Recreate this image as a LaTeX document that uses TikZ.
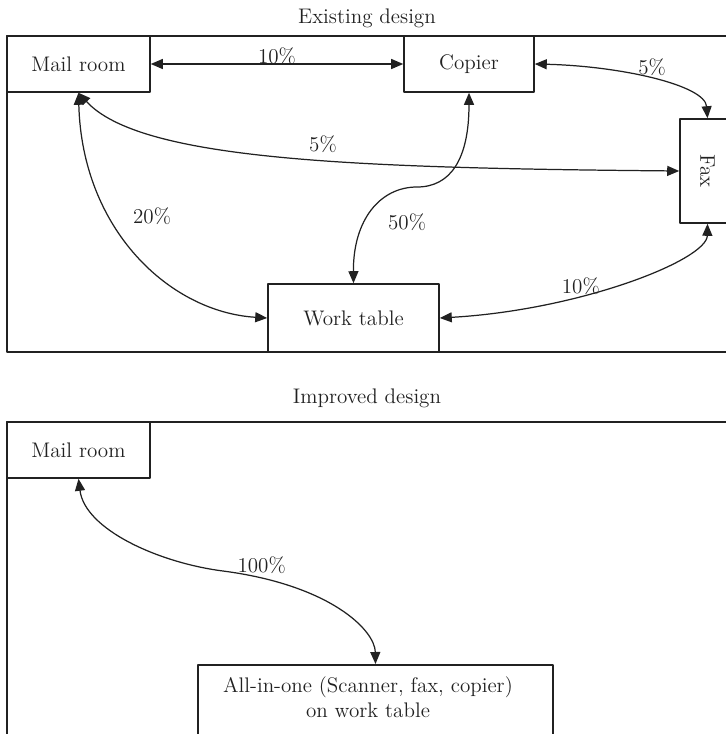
\documentclass[tikz,border=0pt]{standalone}
\usepackage{tikz}
\usetikzlibrary{arrows.meta}
\definecolor{qqqqqq}{rgb}{0.13,0.13,0.13}

\tikzset{
  room/.style={draw=qqqqqq,line width=0.9pt,inner sep=0pt},
  flow/.style={<->,line width=0.7pt},
  pct/.style={inner sep=2pt}
}

\begin{document}
\begin{tikzpicture}[line cap=round,line join=round,>={Triangle[length=0.24cm,width=0.2cm]},x=0.02cm,y=-0.02cm,color=qqqqqq,font=\fontsize{12}{14.5}\selectfont]
\useasboundingbox (0,0) rectangle (725,734);

% existing design
\node (existing) at (367,18) {Existing design};
\draw [line width=0.9pt] (7,36) rectangle (760,352);
\node [room,minimum width=2.86cm,minimum height=1.12cm] (mail) at (78.5,64) {Mail room};
\node [room,minimum width=2.6cm,minimum height=1.12cm] (copier) at (469,64) {Copier};
\node [room,minimum width=1.1cm,minimum height=2.08cm] (fax) at (707.5,171) {\rotatebox{-90}{Fax}};
\node [room,minimum width=3.42cm,minimum height=1.36cm] (work) at (353.5,318) {Work table};

\draw [flow] (mail.east) -- node[pct,midway,above=-2.5pt] {10\%} (copier.west);
\draw [flow] (copier.east) .. controls (620,66) and (705,85) .. node[pct,pos=0.5,above] {5\%} (fax.north);
\draw [flow] (mail.south) .. controls (140,160) and (350,168) .. node[pct,pos=0.57,above=2pt] {5\%} (fax.west);
\draw [flow] (mail.south) .. controls (82,230) and (170,312) .. node[pct,pos=0.35,right=0.38cm] {20\%} (work.west);
\draw [flow] (copier.south) .. controls (469,160) and (450,187) .. (417,187)
  .. controls (380,187) and (353,220) .. node[pct,pos=0.6,right=0.38cm] {50\%} (work.north);
\draw [flow] (work.east) .. controls (580,310) and (707,260) .. node[pct,pos=0.36,above=-2pt] {10\%} (fax.south);

% improved design
\node (improved) at (367,398) {Improved design};
\draw [line width=0.9pt] (7,422) rectangle (760,800);
\node [room,minimum width=2.86cm,minimum height=1.12cm] (mailnew) at (78.5,450) {Mail room};
\node [room,anchor=north,minimum width=7.1cm,minimum height=2.8cm] (allinone) at (375.5,664) {};
\node [align=center] (allinonetxt) at (368,697) {All-in-one (Scanner, fax, copier)\\on work table};

\draw [flow] (mailnew.south) .. controls (85,530) and (160,563) .. (223,571)
  .. controls (330,585) and (375,630) .. node[pct,pos=0.13,above] {100\%} (allinone.north);
\end{tikzpicture}
\end{document}
